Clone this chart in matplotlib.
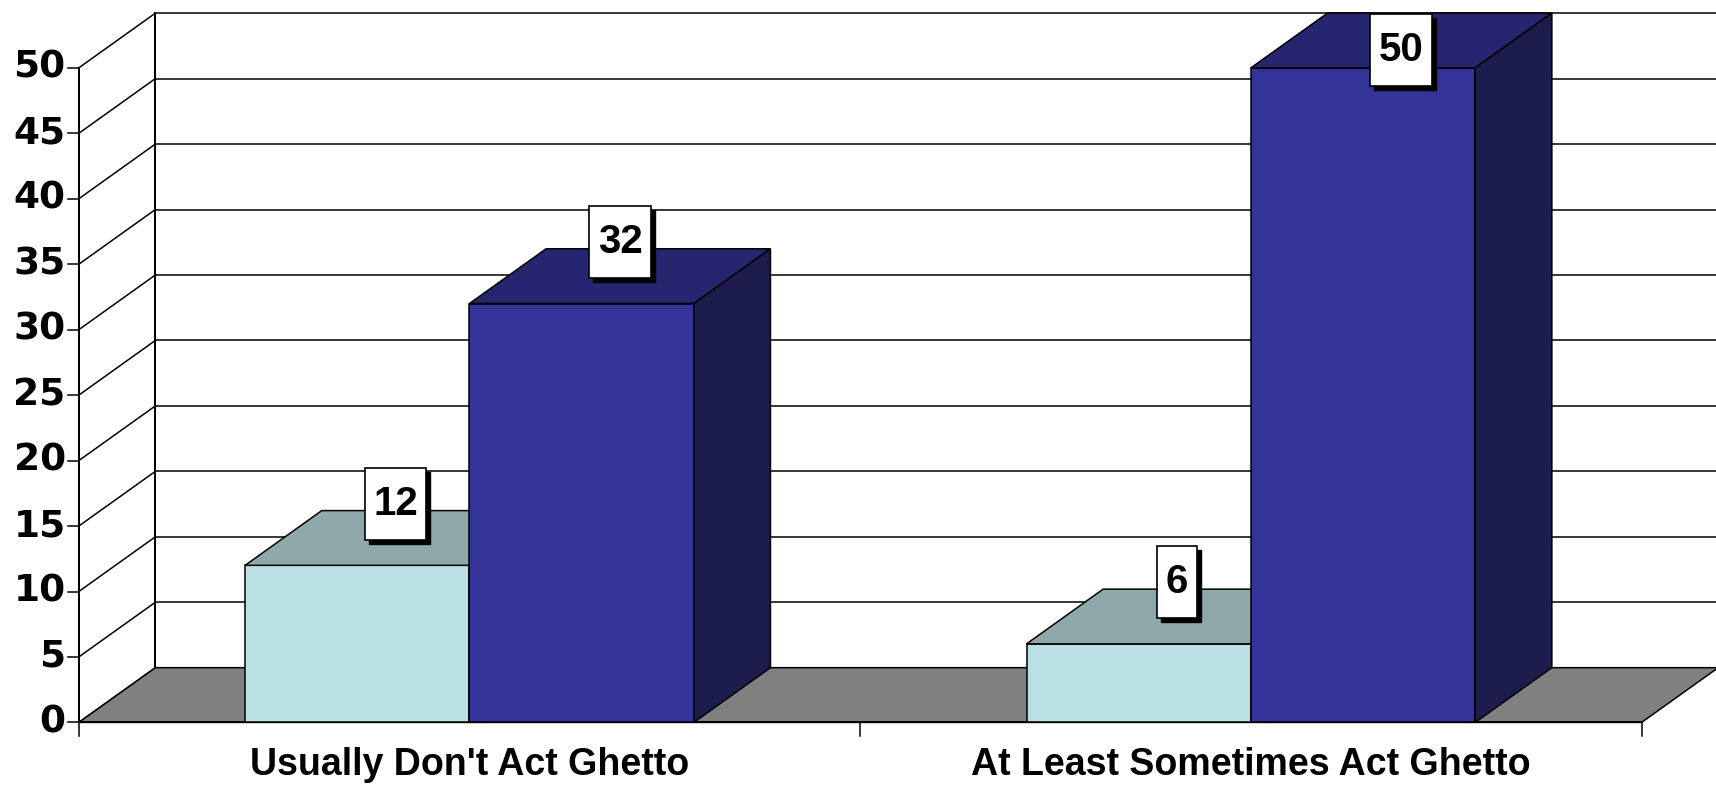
import matplotlib
matplotlib.use("Agg")
import matplotlib.pyplot as plt
from matplotlib.patches import Polygon, Rectangle
import matplotlib.transforms as mtransforms
import numpy as np

categories = ["Usually Don't Act Ghetto", "At Least Sometimes Act Ghetto"]
series_light = [12, 6]
series_dark = [32, 50]
yticks = [0, 5, 10, 15, 20, 25, 30, 35, 40, 45, 50]

W, H = 1716, 787
fig = plt.figure(figsize=(W / 100, H / 100), dpi=100)
ax = fig.add_axes([0, 0, 1, 1])
ax.set_axis_off()

# coordinate system (reference measured in shrunk px)
px0, pxcat = 72.0, 714.0
py0, pyu = 660.0, 11.96
ax.set_xlim(-0.5 - px0 / pxcat, -0.5 + (1568 - px0) / pxcat)
ax.set_ylim(-(719 - py0) / pyu, py0 / pyu)

DX = 70 / pxcat      # depth in x (category units)
DY = 50 / pyu        # depth in y (value units)
ymax = 50
xl, xr = -0.5, 1.5
xright_edge = ax.get_xlim()[1]
lw = 1.1

light_front = "#BAE0E3"
light_top = "#8FA8AB"
light_side = "#5E7A7D"
dark_front = "#333399"
dark_top = "#262670"
dark_side = "#1C1C4D"
floor_c = "#808080"

# floor
ax.add_patch(Polygon([(xl, 0), (xr, 0), (xr + DX, DY), (xl + DX, DY)],
                     closed=True, facecolor=floor_c, edgecolor="black", lw=lw, zorder=1))
# back wall grid lines and left wall diagonals
for v in yticks:
    ax.plot([xl + DX, xright_edge + 0.05], [v + DY, v + DY], color="black", lw=lw, zorder=0.5)
    ax.plot([xl, xl + DX], [v, v + DY], color="black", lw=lw, zorder=0.5)
    ax.plot([xl - 10 / pxcat, xl], [v, v], color="black", lw=lw, zorder=2)
ax.plot([xl + DX, xl + DX], [DY, ymax + DY], color="black", lw=lw * 1.3, zorder=0.6)
ax.plot([xl, xl], [0, ymax], color="black", lw=lw * 1.3, zorder=2)
ax.plot([xl, xr], [0, 0], color="black", lw=lw * 1.3, zorder=2)
for xt in [xl, 0.5, xr]:
    ax.plot([xt, xt], [0, -12 / pyu], color="black", lw=lw, zorder=2)

for v in yticks:
    ax.text(xl - 12 / pxcat, v, str(v), ha="right", va="center",
            fontsize=27, fontweight="bold", family=["DejaVu Sans"])

bw = 205 / pxcat
renderer = fig.canvas.get_renderer()

def bar3d(x0, v, front, top, side):
    ax.add_patch(Rectangle((x0, 0), bw, v, facecolor=front, edgecolor="black", lw=lw, zorder=3))
    ax.add_patch(Polygon([(x0, v), (x0 + bw, v), (x0 + bw + DX, v + DY), (x0 + DX, v + DY)],
                         closed=True, facecolor=top, edgecolor="black", lw=lw, zorder=3))
    ax.add_patch(Polygon([(x0 + bw, 0), (x0 + bw + DX, DY), (x0 + bw + DX, v + DY), (x0 + bw, v)],
                         closed=True, facecolor=side, edgecolor="black", lw=lw, zorder=3))

def label(xc, v):
    yc = min(v + DY / 2 + 2.6, 51.4)
    fp = dict(fontsize=29, fontweight="bold", family=["Liberation Sans Narrow", "Liberation Sans"])
    t = ax.text(xc, yc, str(v), ha="center", va="center", zorder=7, **fp)
    tw = t.get_window_extent(renderer).width / 100.0   # inches
    bw_in = tw + 0.17
    bh_in = 0.72
    base = fig.dpi_scale_trans + mtransforms.ScaledTranslation(xc, yc, ax.transData)
    ax.add_patch(Rectangle((-bw_in / 2 + 0.04, -bh_in / 2 - 0.04), bw_in, bh_in,
                           facecolor="black", edgecolor="black", lw=1, transform=base, zorder=5))
    ax.add_patch(Rectangle((-bw_in / 2, -bh_in / 2), bw_in, bh_in,
                           facecolor="white", edgecolor="black", lw=1.2, transform=base, zorder=6))

for i in range(len(categories)):
    x_light = i - bw
    x_dark = i
    bar3d(x_light, series_light[i], light_front, light_top, light_side)
    bar3d(x_dark, series_dark[i], dark_front, dark_top, dark_side)
    label(x_light + bw / 2 + DX / 2, series_light[i])
    label(x_dark + bw / 2 + DX / 2, series_dark[i])
    ax.text(i, -(699 - py0) / pyu, categories[i], ha="center", va="center",
            fontsize=27, fontweight="bold", family=["Liberation Sans Narrow", "Liberation Sans"])

fig.savefig("out.png", dpi=100)
